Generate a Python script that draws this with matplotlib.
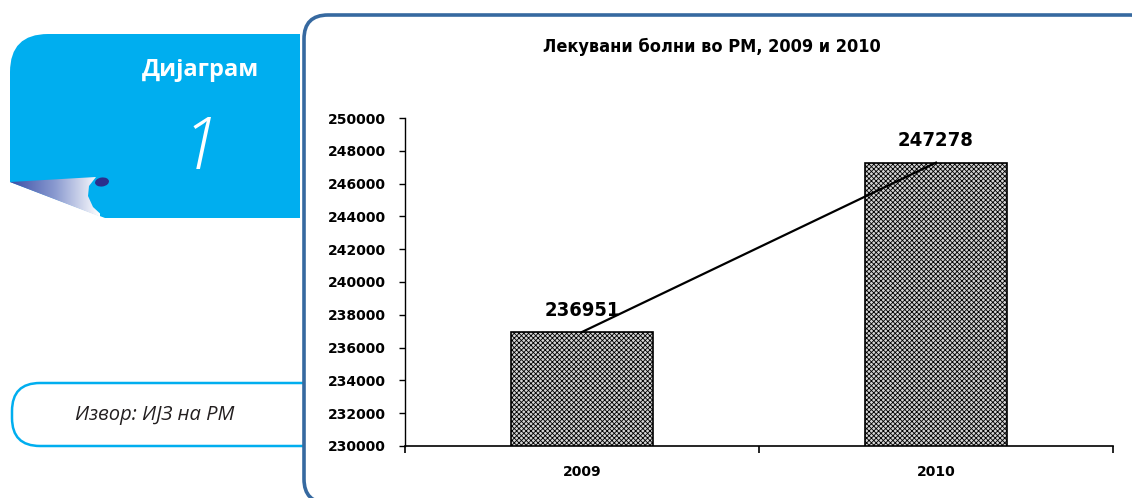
#bar chart of treated patients, 2009 and 2010

import matplotlib
matplotlib.use('Agg')
import matplotlib.pyplot as plt
import numpy as np
from matplotlib.patches import FancyBboxPatch, Polygon, Ellipse, PathPatch
from matplotlib.path import Path
from matplotlib.colors import LinearSegmentedColormap

########################################################################
### data ###
########################################################################

years    = ['2009', '2010']
patients = [236951, 247278]
yticks   = [230000, 232000, 234000, 236000, 238000, 240000,
            242000, 244000, 246000, 248000, 250000]

title_txt  = 'Лекувани болни во РМ, 2009 и 2010'
banner_txt = 'Дијаграм'
banner_num = '1'
source_txt = 'Извор: ИЈЗ на РМ'

cyan  = '#00aeef'
frame = '#3669a0'

plt.rcParams['hatch.linewidth'] = 0.6
plt.rcParams['hatch.color'] = '#484848'

########################################################################
### page decoration ###
########################################################################

fig = plt.figure(figsize=(11.32, 4.98), dpi=100)
bg = fig.add_axes([0, 0, 1, 1])
bg.set_xlim(0, 1132)
bg.set_ylim(498, 0)
bg.axis('off')

#cyan banner with rounded top-left corner and cut bottom-left
r = 38
verts = [(300, 34), (10 + r, 34), (10, 34), (10, 34 + r), (10, 182),
         (105, 218), (300, 218), (300, 34)]
codes = [Path.MOVETO, Path.LINETO, Path.CURVE3, Path.CURVE3, Path.LINETO,
         Path.LINETO, Path.LINETO, Path.CLOSEPOLY]
bg.add_patch(PathPatch(Path(verts, codes), fc=cyan, ec='none', zorder=1))

#page curl with gradient
curl = Polygon([(10, 182), (96, 177), (89, 186), (88, 196), (93, 207),
                (106, 219)], closed=True, fc='none', ec='none', zorder=2)
bg.add_patch(curl)
grad = np.linspace(0, 1, 256).reshape(1, -1)
cmap = LinearSegmentedColormap.from_list('curl', ['#3b4fa6', '#8a9ad0', '#ffffff'])
im = bg.imshow(grad, cmap=cmap, extent=(10, 100, 220, 175), aspect='auto',
               zorder=2)
im.set_clip_path(curl)
bg.add_patch(Ellipse((102, 182), 14, 9, angle=-8, fc='#2b2e8c', ec='none',
                     zorder=3))

bg.text(200, 70, banner_txt, color='white', fontsize=17, fontweight='bold',
        family=['Open Sans', 'DejaVu Sans'], ha='center', va='center', zorder=4)
bg.text(200, 150, banner_num, color='white', fontsize=52, fontweight='light',
        style='italic', family=['Open Sans', 'DejaVu Sans'],
        ha='center', va='center', zorder=4)

#source box
bg.add_patch(FancyBboxPatch((12, 383), 330, 63,
                            boxstyle='round,pad=0,rounding_size=28',
                            fc='white', ec=cyan, lw=1.8, zorder=1))
bg.text(155, 415, source_txt, color='#231f20', fontsize=14.5, style='italic',
        family=['Open Sans', 'DejaVu Sans'], ha='center', va='center', zorder=4)

#chart frame
bg.add_patch(FancyBboxPatch((304, 15), 850, 488,
                            boxstyle='round,pad=0,rounding_size=24',
                            fc='white', ec=frame, lw=2.6, zorder=5))

bg.text(712, 47, title_txt, fontsize=13, fontweight='bold',
        fontstretch='condensed', family=['DejaVu Sans'],
        ha='center', va='center', zorder=6)

########################################################################
### chart ###
########################################################################

ax = fig.add_axes([405/1132, 52/498, 708/1132, 328/498])
ax.set_facecolor('none')
ax.set_zorder(2)

x = np.arange(len(years))
ax.bar(x, patients, width=0.4, color='#d4d4d4', hatch='xxxxxxx',
       edgecolor='black', linewidth=1.2, zorder=2)
ax.plot(x, patients, color='black', lw=1.6, zorder=3)

for xi, v in zip(x, patients):
    ax.annotate(f'{v}', (xi, v), xytext=(0, 22), textcoords='offset pixels',
                ha='center', va='center', fontsize=14.5, fontweight='bold',
                fontstretch='condensed', family=['DejaVu Sans'], zorder=4)

ax.set_xlim(-0.5, 1.5)
ax.set_ylim(yticks[0], yticks[-1])
ax.set_yticks(yticks)
ax.set_yticklabels([str(t) for t in yticks], fontsize=10, fontweight='bold')
ax.set_xticks(x)
ax.set_xticklabels(years, fontsize=10, fontweight='bold')
ax.set_xticks([-0.5, 0.5, 1.5], minor=True)
ax.tick_params(axis='x', which='major', length=0, pad=14)
ax.tick_params(axis='x', which='minor', length=5, width=1.2, direction='out')
ax.tick_params(axis='y', length=4, width=1, direction='out', pad=10)
for s in ['top', 'right']:
    ax.spines[s].set_visible(False)
ax.spines['left'].set_linewidth(1)
ax.spines['bottom'].set_linewidth(1.2)

fig.savefig('out.png', dpi=100)
